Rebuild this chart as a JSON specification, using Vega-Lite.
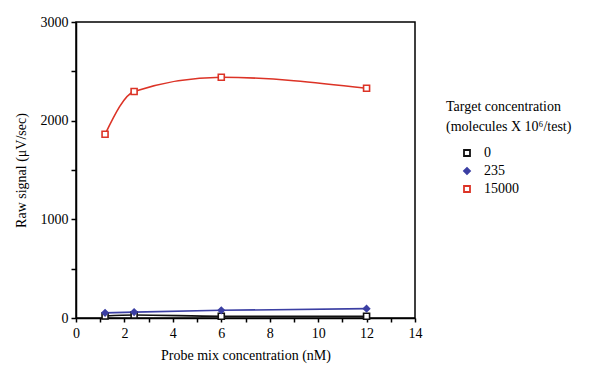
{
  "$schema": "https://vega.github.io/schema/vega-lite/v6.json",
  "autosize": "none",
  "width": 339,
  "height": 296,
  "padding": {"left": 76, "top": 22, "right": 179, "bottom": 53},
  "background": "white",
  "config": {
    "font": "Liberation Serif",
    "view": {"stroke": "black", "strokeWidth": 1.5},
    "axis": {
      "domainColor": "black", "domainWidth": 1.5, "tickColor": "black", "tickWidth": 1.5,
      "labelFont": "Liberation Serif", "titleFont": "Liberation Serif",
      "labelColor": "black", "titleColor": "black", "labelFontSize": 14, "titleFontSize": 14,
      "titleFontWeight": "normal", "grid": false
    },
    "legend": {"labelFont": "Liberation Serif", "titleFont": "Liberation Serif", "labelFontSize": 14, "titleFontSize": 14, "titleFontWeight": "normal", "labelColor": "black", "titleColor": "black"}
  },
  "data": {"values": [
    {"conc": 1.2, "target": "0", "signal": 20},
    {"conc": 2.4, "target": "0", "signal": 30},
    {"conc": 6, "target": "0", "signal": 18},
    {"conc": 12, "target": "0", "signal": 18},
    {"conc": 1.2, "target": "235", "signal": 52},
    {"conc": 2.4, "target": "235", "signal": 60},
    {"conc": 6, "target": "235", "signal": 78},
    {"conc": 12, "target": "235", "signal": 95},
    {"conc": 1.2, "target": "15000", "signal": 1862},
    {"conc": 2.4, "target": "15000", "signal": 2295},
    {"conc": 6, "target": "15000", "signal": 2440},
    {"conc": 12, "target": "15000", "signal": 2328}
  ]},
  "encoding": {
    "x": {"field": "conc", "type": "quantitative", "scale": {"domain": [0, 14], "nice": false},
      "axis": {"title": "Probe mix concentration (nM)", "values": [0,1,2,3,4,5,6,7,8,9,10,11,12,13,14],
        "labelExpr": "datum.value % 2 == 0 ? datum.label : ''", "tickSize": 4, "labelPadding": 4, "titlePadding": 8, "labelFlush": false}},
    "y": {"field": "signal", "type": "quantitative", "scale": {"domain": [0, 3000], "nice": false},
      "axis": {"title": "Raw signal (μV/sec)", "values": [0,500,1000,1500,2000,2500,3000],
        "labelExpr": "datum.value % 1000 == 0 ? datum.value : ''", "tickSize": 5, "labelPadding": 3, "titlePadding": 12, "labelFlush": false}}
  },
  "layer": [
    {
      "mark": {"type": "line", "interpolate": "monotone", "strokeWidth": 1.6},
      "encoding": {
        "stroke": {"field": "target", "type": "nominal",
          "scale": {"domain": ["0","235","15000"], "range": ["#111111","#3b3fa3","#dc3326"]}}
      }
    },
    {
      "mark": {"type": "point", "size": 36, "strokeWidth": 1.6, "opacity": 1},
      "encoding": {
        "stroke": {"field": "target", "type": "nominal",
          "scale": {"domain": ["0","235","15000"], "range": ["#111111","#3b3fa3","#dc3326"]},
          "legend": {"title": ["Target concentration", "(molecules X 10⁶/test)"], "orient": "none", "legendX": 370, "legendY": 78,
            "symbolOffset": 14, "rowPadding": 4, "titlePadding": 12, "labelOffset": 10, "symbolStrokeWidth": 1.8, "symbolSize": 36, "titleLineHeight": 20}},
        "fill": {"field": "target", "type": "nominal",
          "scale": {"domain": ["0","235","15000"], "range": ["white","#3b3fa3","white"]}},
        "shape": {"field": "target", "type": "nominal",
          "scale": {"domain": ["0","235","15000"], "range": ["square","diamond","square"]}}
      }
    }
  ]
}
